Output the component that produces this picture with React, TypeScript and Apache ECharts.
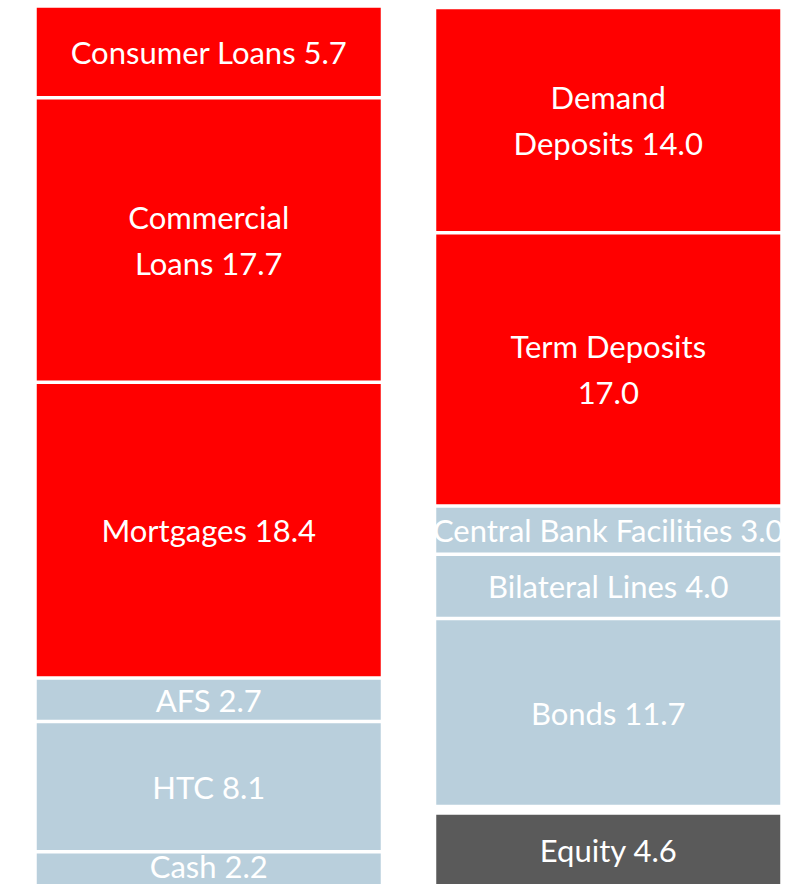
import React, { useEffect, useRef } from "react";
import * as echarts from "echarts";

const categories = ["Assets", "Liabilities"];

// Assets, listed bottom to top
const assetNames = ["Cash 2.2", "HTC 8.1", "AFS 2.7", "Mortgages 18.4", "Commercial\nLoans 17.7", "Consumer Loans 5.7"];
const assetValues = [2.2, 8.1, 2.7, 18.4, 17.7, 5.7];
const assetKinds = ["liquid", "liquid", "liquid", "loan", "loan", "loan"];

// Liabilities, listed bottom to top (the gap is the blank strip above Equity)
const liabNames = ["Equity 4.6", "", "Bonds 11.7", "Bilateral Lines 4.0", "Central Bank Facilities 3.0", "Term Deposits\n17.0", "Demand\nDeposits 14.0"];
const liabValues = [4.6, 0.4, 11.7, 4.0, 3.0, 17.0, 14.0];
const liabKinds = ["equity", "gap", "wholesale", "wholesale", "wholesale", "deposit", "deposit"];

const colorOf: Record<string, string> = {
  loan: "#ff0000",
  deposit: "#ff0000",
  liquid: "#b9cfdc",
  wholesale: "#b9cfdc",
  equity: "#5a5a5a",
  gap: "#ffffff",
};

export default function App() {
  const ref = useRef<HTMLDivElement>(null);
  useEffect(() => {
    if (!ref.current) return;
    const chart = echarts.init(ref.current, undefined, { renderer: "svg" });
    const mk = (name: string, value: number, kind: string, side: number) => {
      const multi = name.indexOf("\n") >= 0;
      const bottomItem = side === 0 && name.startsWith("Cash");
      return {
        type: "bar",
        name: name || "gap",
        stack: "total",
        barWidth: 347.5,
        data: side === 0 ? [value, "-"] : ["-", value],
        itemStyle: {
          color: colorOf[kind],
          borderColor: "#ffffff",
          borderWidth: kind === "gap" ? 0 : 1.75,
        },
        label: {
          show: kind !== "gap",
          position: "inside",
          formatter: () => name,
          color: "#ffffff",
          fontFamily: "Lato",
          fontSize: 31,
          lineHeight: multi ? 46 : 30,
          offset: bottomItem ? [0, -3] : [0, 0],
        },
        emphasis: { disabled: true },
      };
    };
    const series: any[] = [];
    assetValues.forEach((v, i) => series.push(mk(assetNames[i], v, assetKinds[i], 0)));
    liabValues.forEach((v, i) => series.push(mk(liabNames[i], v, liabKinds[i], 1)));
    chart.setOption({
      animation: false,
      backgroundColor: "#ffffff",
      grid: { left: 9, top: 6, width: 799, height: 881, outerBoundsMode: "none", containLabel: false },
      xAxis: { type: "category", data: categories, show: false },
      yAxis: { type: "value", min: 0, max: 54.8, show: false },
      series,
    });
    return () => chart.dispose();
  }, []);
  return <div ref={ref} style={{ position: "fixed", left: 0, top: 0, width: 795, height: 884 }} />;
}
